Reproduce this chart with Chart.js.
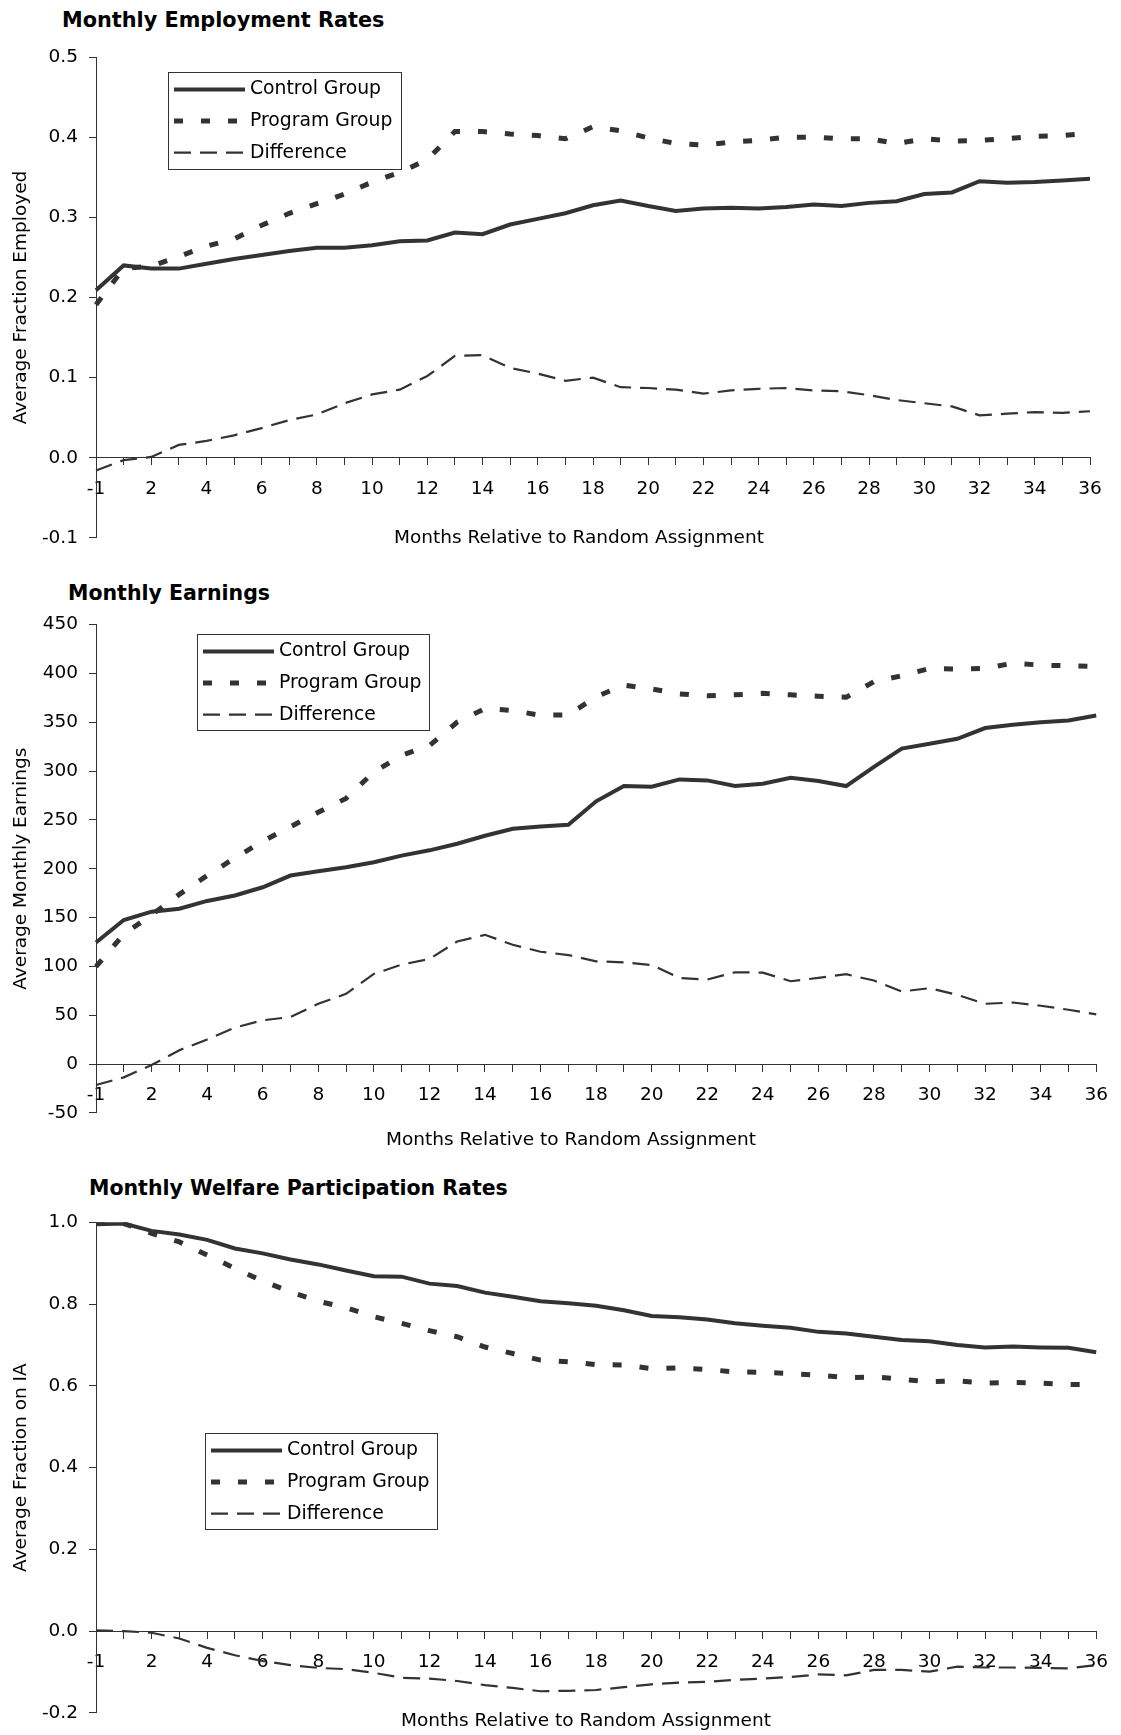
<!DOCTYPE html>
<html>
<head>
<meta charset="utf-8">
<script src="https://cdn.jsdelivr.net/npm/chart.js@4.4.1/dist/chart.umd.min.js"></script>
<style>
  body { margin: 0; background: #fff; font-family: "DejaVu Sans", Verdana, sans-serif; }
  #page { position: relative; width: 1121px; height: 1735px; overflow: hidden; }
  canvas { position: absolute; left: 0; }
  .ttl { position: absolute; font-weight: bold; font-size: 20.5px; color: #000; white-space: nowrap; transform: translateY(-50%); }
  .xt { position: absolute; font-size: 18.5px; color: #000; white-space: nowrap; transform: translate(-50%, -50%); }
</style>
</head>
<body>
<div id="page">
  <div class="ttl" style="left:62px;top:20px;font-size:20.8px;">Monthly Employment Rates</div>
  <canvas id="empChart" width="1121" height="560" style="top:0px"></canvas>
  <div class="xt" style="left:579px;top:536px;">Months Relative to Random Assignment</div>

  <div class="ttl" style="left:68px;top:593px;">Monthly Earnings</div>
  <canvas id="earnChart" width="1121" height="565" style="top:570px"></canvas>
  <div class="xt" style="left:571px;top:1138px;">Months Relative to Random Assignment</div>

  <div class="ttl" style="left:89px;top:1188px;">Monthly Welfare Participation Rates</div>
  <canvas id="welfChart" width="1121" height="570" style="top:1165px"></canvas>
  <div class="xt" style="left:586px;top:1719px;">Months Relative to Random Assignment</div>
</div>
<script>
// months relative to random assignment (no month 0)
var months = [-1, 1, 2, 3, 4, 5, 6, 7, 8, 9, 10, 11, 12, 13, 14, 15, 16, 17, 18,
              19, 20, 21, 22, 23, 24, 25, 26, 27, 28, 29, 30, 31, 32, 33, 34, 35, 36];

// employment rates
var empControl = [0.209, 0.240, 0.236, 0.236, 0.242, 0.248, 0.253, 0.258, 0.262, 0.262, 0.265, 0.270, 0.271,
                  0.281, 0.279, 0.291, 0.298, 0.305, 0.315, 0.321, 0.314, 0.308, 0.311, 0.312, 0.311, 0.313,
                  0.316, 0.314, 0.318, 0.320, 0.329, 0.331, 0.345, 0.343, 0.344, 0.346, 0.348];
var empProgram = [0.191, 0.236, 0.239, 0.251, 0.264, 0.273, 0.290, 0.305, 0.317, 0.329, 0.344, 0.356, 0.372,
                  0.407, 0.407, 0.404, 0.402, 0.398, 0.413, 0.408, 0.399, 0.392, 0.390, 0.394, 0.396, 0.400,
                  0.400, 0.398, 0.398, 0.392, 0.398, 0.395, 0.396, 0.398, 0.401, 0.402, 0.405];
var empDiff = [-0.016, -0.003, 0.001, 0.016, 0.021, 0.028, 0.037, 0.047, 0.054, 0.068, 0.079, 0.085, 0.102,
               0.127, 0.128, 0.112, 0.105, 0.096, 0.100, 0.088, 0.087, 0.085, 0.080, 0.084, 0.086, 0.087,
               0.084, 0.083, 0.078, 0.072, 0.068, 0.064, 0.053, 0.055, 0.057, 0.056, 0.058];
var empTicks = [-0.1, 0, 0.1, 0.2, 0.3, 0.4, 0.5];

// monthly earnings
var earnControl = [124.5, 147.5, 156, 159, 167, 172.6, 181, 193, 197.4, 201.5, 206.6, 213.4, 218.8,
                   225.6, 233.7, 240.8, 243.2, 244.9, 269, 284.6, 283.9, 291.4, 290.4, 284.6, 287, 293,
                   289.7, 284.6, 304.3, 323, 328, 333, 344, 347.3, 350, 351.8, 356.8];
var earnProgram = [99.7, 133, 152.6, 173.7, 193, 211, 228, 243, 257.8, 272, 299, 316, 326,
                   350, 364, 362, 357, 357.5, 376, 388, 384, 379, 377, 378, 379.6, 378,
                   376.5, 375.5, 391.5, 397.5, 405, 404.3, 405, 410.4, 408.4, 407.7, 407];
var earnDiff = [-21.4, -13.6, -1, 14.2, 25.1, 37.3, 44.8, 48.2, 61.7, 71.9, 92.3, 101.8, 107.5,
                125.5, 132.3, 122.1, 115, 111.6, 105.2, 104.1, 101.4, 88.2, 86.5, 94, 93.6, 84.8,
                88.2, 92, 85.5, 74.3, 77.7, 70.9, 61.7, 63, 59.7, 55.6, 50.9];
var earnTicks = [-50, 0, 50, 100, 150, 200, 250, 300, 350, 400, 450];

// welfare participation
var welfControl = [0.995, 0.997, 0.979, 0.970, 0.957, 0.936, 0.924, 0.909, 0.897, 0.882, 0.868, 0.867, 0.850,
                   0.844, 0.828, 0.818, 0.807, 0.802, 0.796, 0.785, 0.771, 0.768, 0.762, 0.753, 0.747, 0.742,
                   0.732, 0.728, 0.720, 0.712, 0.709, 0.700, 0.694, 0.696, 0.694, 0.693, 0.682];
var welfProgram = [0.997, 0.997, 0.973, 0.952, 0.920, 0.887, 0.856, 0.830, 0.807, 0.791, 0.769, 0.753, 0.735,
                   0.720, 0.695, 0.679, 0.663, 0.659, 0.652, 0.651, 0.642, 0.644, 0.640, 0.634, 0.633, 0.630,
                   0.626, 0.620, 0.622, 0.616, 0.610, 0.612, 0.607, 0.608, 0.607, 0.603, 0.603];
var welfDiff = [0.002, 0.000, -0.004, -0.018, -0.041, -0.059, -0.073, -0.083, -0.090, -0.093, -0.102, -0.114, -0.116,
                -0.122, -0.132, -0.139, -0.147, -0.146, -0.144, -0.137, -0.130, -0.126, -0.124, -0.119, -0.116, -0.112,
                -0.106, -0.108, -0.095, -0.095, -0.099, -0.087, -0.089, -0.089, -0.090, -0.091, -0.083];
var welfTicks = [-0.2, 0, 0.2, 0.4, 0.6, 0.8, 1.0];

var seriesNames = ['Control Group', 'Program Group', 'Difference'];

Chart.defaults.font.family = '"DejaVu Sans", Verdana, sans-serif';
Chart.defaults.color = '#000';

// boxed legend inside the plot, like the original
var boxLegend = {
    id: 'boxLegend',
    afterDraw: function(chart, args, opts){
        var ctx = chart.ctx;
        ctx.save();
        ctx.fillStyle = '#fff';
        ctx.fillRect(opts.x, opts.y, opts.w, opts.h);
        ctx.strokeStyle = '#333';
        ctx.lineWidth = 1;
        ctx.strokeRect(opts.x + 0.5, opts.y + 0.5, opts.w, opts.h);
        chart.data.datasets.forEach(function(ds, i){
            var cy = opts.y + 17.5 + i * 31.6;
            ctx.beginPath();
            ctx.setLineDash(ds.borderDash || []);
            ctx.lineWidth = ds.borderWidth;
            ctx.strokeStyle = ds.borderColor;
            ctx.lineCap = 'butt';
            ctx.moveTo(opts.x + 6, cy);
            ctx.lineTo(opts.x + 77, cy);
            ctx.stroke();
            ctx.setLineDash([]);
            ctx.fillStyle = '#000';
            ctx.font = '18.8px "DejaVu Sans", Verdana, sans-serif';
            ctx.textBaseline = 'middle';
            ctx.textAlign = 'left';
            ctx.fillText(ds.label, opts.x + 82, cy);
        });
        ctx.restore();
    }
};

function makeChart(id, control, program, diff, yTicks, digits, yTitle, legendPos, padding){
    var ctx = document.getElementById(id).getContext('2d');
    return new Chart(ctx, {
        type: 'line',
        data: {
            labels: months,
            datasets: [{
                label: seriesNames[0],
                data: control,
                borderColor: '#333',
                borderWidth: 4,
                pointRadius: 0,
                tension: 0
            }, {
                label: seriesNames[1],
                data: program,
                borderColor: '#333',
                borderWidth: 5,
                borderDash: [9, 18],
                pointRadius: 0,
                tension: 0
            }, {
                label: seriesNames[2],
                data: diff,
                borderColor: '#333',
                borderWidth: 2.2,
                borderDash: [17, 9],
                pointRadius: 0,
                tension: 0
            }]
        },
        options: {
            responsive: false,
            animation: false,
            layout: { padding: padding },
            plugins: {
                legend: { display: false },
                tooltip: { enabled: false },
                boxLegend: legendPos
            },
            scales: {
                x: {
                    type: 'category',
                    position: { y: 0 },
                    offset: false,
                    afterFit: function(scale){ scale.height = 0; },
                    grid: { drawOnChartArea: false, drawTicks: true, tickLength: 7, color: '#333' },
                    border: { display: true, color: '#333', width: 1 },
                    ticks: {
                        autoSkip: false,
                        maxRotation: 0,
                        padding: 13,
                        font: { size: 18.5 },
                        callback: function(val, index){
                            return index % 2 === 0 ? String(months[index]) : '';
                        }
                    }
                },
                y: {
                    min: yTicks[0],
                    max: yTicks[yTicks.length - 1],
                    afterFit: function(scale){ scale.width = 96; },
                    afterBuildTicks: function(scale){
                        scale.ticks = yTicks.map(function(v){ return { value: v }; });
                    },
                    grid: { drawOnChartArea: false, drawTicks: true, tickLength: 7, color: '#333' },
                    border: { display: true, color: '#333', width: 1 },
                    ticks: {
                        padding: 11,
                        font: { size: 18.5 },
                        callback: function(v){ return Number(v).toFixed(digits); }
                    },
                    title: {
                        display: true,
                        text: yTitle,
                        font: { size: 18.5 },
                        padding: { top: 10, bottom: 0 }
                    }
                }
            }
        },
        plugins: [boxLegend]
    });
}

makeChart('empChart', empControl, empProgram, empDiff, empTicks, 1, 'Average Fraction Employed',
    { x: 168, y: 72, w: 233, h: 97 }, { top: 57, bottom: 21, left: 0, right: 31 });
makeChart('earnChart', earnControl, earnProgram, earnDiff, earnTicks, 0, 'Average Monthly Earnings',
    { x: 197, y: 64, w: 232, h: 96 }, { top: 54.5, bottom: 19.5, left: 0, right: 17 });
makeChart('welfChart', welfControl, welfProgram, welfDiff, welfTicks, 1, 'Average Fraction on IA',
    { x: 205, y: 268, w: 232, h: 96 }, { top: 57.3, bottom: 21.7, left: 0, right: 17 });
</script>
</body>
</html>
